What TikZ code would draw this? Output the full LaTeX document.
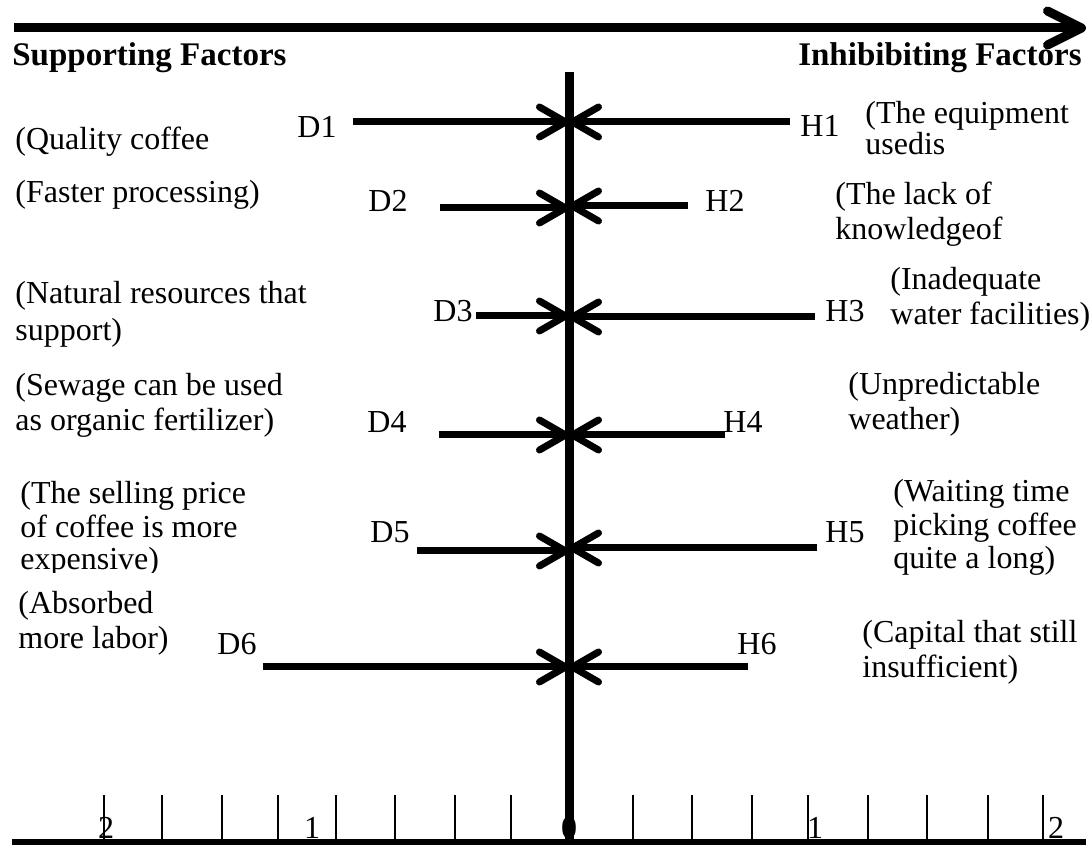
\documentclass[tikz,border=0pt]{standalone}
\usepackage{fontspec}
\setmainfont{Liberation Serif}
\usetikzlibrary{arrows.meta, positioning}

\begin{document}
\begin{tikzpicture}[
    x=0.5pt, y=-0.5pt,
    txt/.style={font=\fontsize{16}{17.5}\selectfont, inner sep=0pt, anchor=base west, align=left},
    lbl/.style={font=\fontsize{16}{17.5}\selectfont, inner sep=0pt, anchor=base west},
    heading/.style={font=\fontsize{16.5}{17.5}\selectfont\bfseries, inner sep=0pt, anchor=base west},
    arrow/.style={-{Straight Barb[length=13pt, width=15pt, round]}, line width=3.5pt},
    mainline/.style={line width=4.5pt},
    tickmark/.style={line width=1pt}
]
\useasboundingbox (0,0) rectangle (1089,845);

% top arrow and headings
\coordinate (topl) at (14,28);
\coordinate (topr) at (1086,28);
\draw[mainline, -{Straight Barb[length=17pt, width=17pt, round]}] (topl) -- (topr);
\node[heading] (support) at (12,66) {Supporting Factors};
\node[heading, anchor=base east] (inhibit) at (1082,66) {Inhibibiting Factors};

% centre line and bottom scale
\coordinate (ctop) at (569,72);
\coordinate (cbot) at (569,842);
\draw[mainline] (ctop) -- (cbot);
\coordinate (axl) at (12,842);
\coordinate (axr) at (1086,842);
\draw[line width=3pt] (axl) -- (axr);
\foreach \x in {104,162,222,278,336,395,455,511,633,692,752,808,868,927,988,1043}
    \draw[tickmark] (\x,795) -- (\x,840);
\node[lbl, anchor=base] (s2l) at (106,838) {2};
\node[lbl, anchor=base] (s1l) at (312,838) {1};
\node[lbl, anchor=base] (s0) at (569,838) {0};
\node[lbl, anchor=base] (s1r) at (815,838) {1};
\node[lbl, anchor=base] (s2r) at (1056,838) {2};

% supporting factors
\node[lbl] (D1) at (297,138) {D1};
\node[lbl] (D2) at (368,212) {D2};
\node[lbl] (D3) at (433,322) {D3};
\node[lbl] (D4) at (367,433) {D4};
\node[lbl] (D5) at (370,543) {D5};
\node[lbl] (D6) at (217,655) {D6};
\coordinate (d1) at (353,122);  \coordinate (c1) at (569,122);
\coordinate (d2) at (440,208);  \coordinate (c2) at (569,208);
\coordinate (d3) at (476,316);  \coordinate (c3) at (569,316);
\coordinate (d4) at (439,435);  \coordinate (c4) at (569,435);
\coordinate (d5) at (417,551);  \coordinate (c5) at (569,551);
\coordinate (d6) at (263,667);  \coordinate (c6) at (569,667);
\foreach \i in {1,...,6}
    \draw[arrow] (d\i) -- (c\i);

% inhibiting factors
\node[lbl] (H1) at (800,137) {H1};
\node[lbl] (H2) at (705,212) {H2};
\node[lbl] (H3) at (825,322) {H3};
\node[lbl] (H4) at (723,433) {H4};
\node[lbl] (H5) at (825,543) {H5};
\node[lbl] (H6) at (737,655) {H6};
\coordinate (h1) at (790,122);  \coordinate (e1) at (569,122);
\coordinate (h2) at (688,206);  \coordinate (e2) at (569,206);
\coordinate (h3) at (815,317);  \coordinate (e3) at (569,317);
\coordinate (h4) at (725,435);  \coordinate (e4) at (569,435);
\coordinate (h5) at (817,548);  \coordinate (e5) at (569,548);
\coordinate (h6) at (748,667);  \coordinate (e6) at (569,667);
\foreach \i in {1,...,6}
    \draw[arrow] (h\i) -- (e\i);

% left texts (placed at the baseline of the last line)
\node[txt] (q1) at (15,150) {(Quality coffee};
\node[txt] (q2) at (15,203) {(Faster processing)};
\node[txt, font=\fontsize{16}{18.5}\selectfont] (q3) at (15,341) {(Natural resources that\\support)};
\node[txt] (q4) at (15,431) {(Sewage can be used\\as organic fertilizer)};
\begin{scope}
    \clip (0,470) rectangle (300,573);
    \node[txt, font=\fontsize{16}{16.5}\selectfont] (q5) at (20,570) {(The selling price\\of coffee is more\\expensive)};
\end{scope}
\node[txt] (q6) at (18,649) {(Absorbed\\more labor)};

% right texts
\node[txt, font=\fontsize{16}{15.5}\selectfont] (p1) at (865,155) {(The equipment\\usedis};
\node[txt] (p2) at (835,240) {(The lack of\\knowledgeof};
\node[txt] (p3) at (890,325) {(Inadequate\\water facilities)};
\node[txt] (p4) at (848,430) {(Unpredictable\\weather)};
\node[txt, font=\fontsize{16}{16.75}\selectfont] (p5) at (893,569) {(Waiting time\\picking coffee\\quite a long)};
\node[txt] (p6) at (862,678) {(Capital that still\\insufficient)};

\end{tikzpicture}
\end{document}
